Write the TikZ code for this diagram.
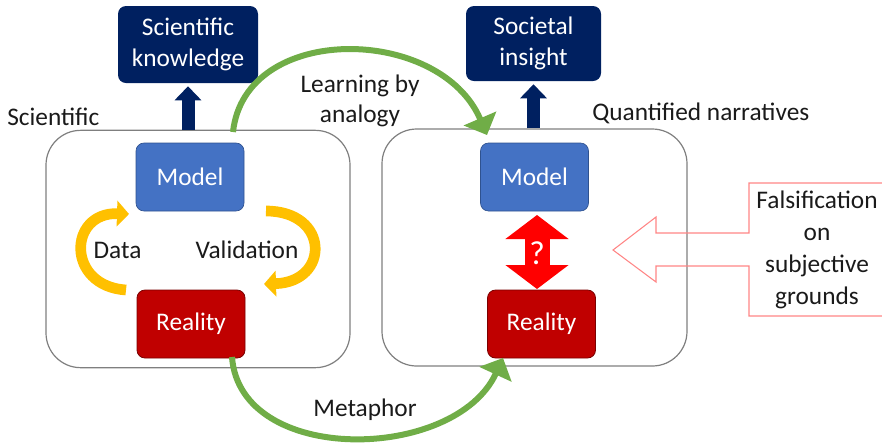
\documentclass[tikz,border=0pt]{standalone}
\usepackage{fontspec}
\setmainfont{Carlito}
\usetikzlibrary{arrows.meta,calc}
\definecolor{navy}{HTML}{002060}
\definecolor{mblue}{HTML}{4472C4}
\definecolor{mblueb}{HTML}{2F528F}
\definecolor{rred}{HTML}{C00000}
\definecolor{rredb}{HTML}{7A0000}
\definecolor{ggreen}{HTML}{70AD47}
\definecolor{yyellow}{HTML}{FFC000}
\definecolor{pinkline}{HTML}{FF8585}
\definecolor{boxgray}{HTML}{7F7F7F}
\definecolor{txt}{HTML}{1A1A1A}
\begin{document}
\begin{tikzpicture}[x=0.75pt,y=-0.75pt,
  every node/.style={font=\fontsize{19}{23}\selectfont},
  bigbox/.style={draw=boxgray,line width=0.9pt,rounded corners=26pt,minimum width=228pt,minimum height=178pt},
  navybox/.style={fill=navy,text=white,rounded corners=6pt,align=center,inner sep=0pt},
  modelbox/.style={fill=mblue,draw=mblueb,line width=0.5pt,text=white,rounded corners=6pt,minimum width=81pt,minimum height=51pt,inner sep=0pt},
  realbox/.style={fill=rred,draw=rredb,line width=0.6pt,text=white,rounded corners=6pt,minimum width=81pt,minimum height=51pt,inner sep=0pt},
  lbl/.style={text=txt,inner sep=0pt,align=center},
  navyarrow/.style={draw=navy,line width=9.75pt,-{Triangle[length=10.5pt,width=19.5pt]},shorten >=2.25pt},
  greenarrow/.style={draw=ggreen,line width=4.5pt,-{Triangle[length=13.5pt,width=26pt]}},
  yellowarrow/.style={draw=yyellow,line width=8pt,-{Triangle[length=9pt,width=19pt]}},
  redarrow/.style={draw=red,line width=18.75pt,{Triangle[length=18pt,width=46.5pt]}-{Triangle[length=18pt,width=46.5pt]}},
  callout/.style={draw=pinkline,line width=0.8pt}
]
\useasboundingbox (0,0) rectangle (882,444);

% big boxes
\node[bigbox] (lbox) at (198,249) {};
\node[bigbox,minimum width=228.75pt,minimum height=177.75pt] (rbox) at (534.5,247.5) {};

% top boxes
\node[navybox,minimum width=105pt,minimum height=57.75pt] (sk) at (188,44.5) {Scientific\\knowledge};
\node[navybox,minimum width=101.25pt,minimum height=56.25pt] (si) at (533.5,43.5) {Societal\\insight};

% model / reality
\node[modelbox] (lm) at (190,177) {Model};
\node[modelbox] (rm) at (534.5,177) {Model};
\node[realbox] (lr) at (191,324) {Reality};
\node[realbox] (rr) at (541.5,324) {Reality};

% navy arrows
\draw[navyarrow] (lbox.north -| sk.south) -- (sk.south);
\draw[navyarrow] (rbox.north -| si.south) -- (si.south);

% labels
\node[lbl,anchor=west] (lsci) at (7,117) {Scientific};
\node[lbl,anchor=west] (lqn) at (592,113) {Quantified narratives};
\node[lbl] (llba) at (360,101) {Learning by\\analogy};
\node[lbl] (lmet) at (365,410) {Metaphor};
\node[lbl] (ldata) at (117.5,250) {Data};
\node[lbl] (lval) at (247,250) {Validation};

% green arrows
\coordinate (g1s) at (233,132);
\coordinate (g1e) at (487,135);
\coordinate (g2s) at (232,357);
\coordinate (g2e) at (503,358);
\draw[greenarrow] (g1s) .. controls (245,22) and (440,25) .. (g1e);
\draw[greenarrow] (g2s) .. controls (240,466) and (455,462) .. (g2e);

% yellow arrows
\coordinate (y1s) at (126,290);
\coordinate (y1e) at (129,214);
\coordinate (y2s) at (266,211);
\coordinate (y2e) at (264,284);
\draw[yellowarrow] (y1s) .. controls (66,286) and (68,212) .. (y1e);
\draw[yellowarrow] (y2s) .. controls (330,211) and (330,282) .. (y2e);

% red double arrow
\coordinate (ra) at (537,215);
\coordinate (rb) at (537,289);
\draw[redarrow] (ra) -- (rb);
\node[text=white,inner sep=0pt,font=\fontsize{25}{25}\selectfont] (q) at (537,253) {?};

% callout
\draw[callout] (884,183) -- (749,183) -- (749,233) -- (656,233) -- (656,217) -- (613,250)
  -- (656,282) -- (656,266) -- (749,266) -- (749,316) -- (884,316);
\node[lbl,font=\fontsize{19}{24}\selectfont] (lfal) at (817,250) {Falsification\\on\\subjective\\grounds};
\end{tikzpicture}
\end{document}
